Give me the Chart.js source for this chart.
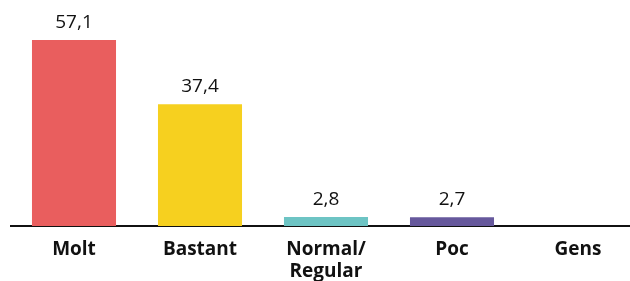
<!DOCTYPE html>
<html>
<head>
<meta charset="utf-8">
<script src="https://cdn.jsdelivr.net/npm/chart.js@4"></script>
<style>
  html, body { margin: 0; padding: 0; background: #fff; overflow: hidden; }
  #wrap { width: 641px; height: 281px; position: relative; }
</style>
</head>
<body>
<div id="wrap"><canvas id="c"></canvas></div>
<script>
const categories = [['Molt'], ['Bastant'], ['Normal/', 'Regular'], ['Poc'], ['Gens']];
const values = [57.1, 37.4, 2.8, 2.7, null];
const valueLabels = ['57,1', '37,4', '2,8', '2,7', ''];
const colors = ['#e95e5e', '#f6d01f', '#6dc4c4', '#66589c', '#cccccc'];

const valueLabelPlugin = {
  id: 'valueLabels',
  afterDatasetsDraw(chart) {
    const ctx = chart.ctx;
    const meta = chart.getDatasetMeta(0);
    ctx.save();
    ctx.font = '400 19px "Open Sans"';
    ctx.fillStyle = '#111';
    ctx.textAlign = 'center';
    ctx.textBaseline = 'alphabetic';
    meta.data.forEach((bar, i) => {
      if (values[i] == null || !valueLabels[i]) return;
      ctx.fillText(valueLabels[i], bar.x, bar.y - 12);
    });
    ctx.restore();
  }
};

new Chart(document.getElementById('c'), {
  type: 'bar',
  data: {
    labels: categories,
    datasets: [{
      data: values,
      backgroundColor: colors,
      borderWidth: 0,
      barPercentage: 1,
      categoryPercentage: 0.667
    }]
  },
  options: {
    responsive: true,
    maintainAspectRatio: false,
    animation: false,
    layout: { padding: { left: 11, right: 0, top: 0, bottom: 0 } },
    plugins: { legend: { display: false }, tooltip: { enabled: false } },
    scales: {
      y: {
        display: false,
        min: 0,
        max: 69.4
      },
      x: {
        grid: { display: false, drawTicks: false },
        border: { display: true, color: '#111', width: 2 },
        ticks: {
          color: '#111',
          padding: 12,
          maxRotation: 0,
          autoSkip: false,
          font: { family: '"Open Sans"', size: 19, weight: '700', lineHeight: 1.17 }
        },
        afterFit(scale) { scale.height = 55; }
      }
    }
  },
  plugins: [valueLabelPlugin]
});
</script>
</body>
</html>
